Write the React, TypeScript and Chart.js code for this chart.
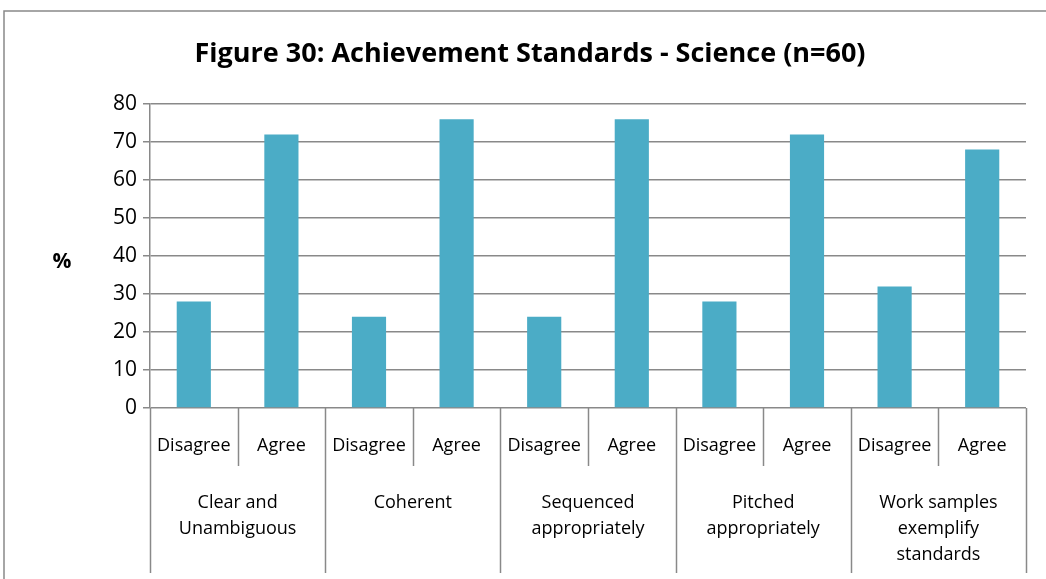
import React, { useEffect, useRef } from "react";
import { Chart, registerables } from "chart.js";

Chart.register(...registerables);

const titleText = "Figure 30: Achievement Standards - Science (n=60)";
const groupLabels: string[][] = [
  ["Clear and", "Unambiguous"],
  ["Coherent"],
  ["Sequenced", "appropriately"],
  ["Pitched", "appropriately"],
  ["Work samples", "exemplify", "standards"],
];
const responseLabels = ["Disagree", "Agree"];
const values = [28, 72, 24, 76, 24, 76, 28, 72, 32, 68];
const yMin = 0;
const yMax = 80;
const yStep = 10;
const yAxisLabel = "%";

const FONT = "'Open Sans', 'Noto Sans', sans-serif";
const LINE = "#898989";

export default function App() {
  const ref = useRef<HTMLCanvasElement | null>(null);
  useEffect(() => {
    if (!ref.current) return;
    const labels: string[] = [];
    groupLabels.forEach((g) => responseLabels.forEach((r) => labels.push(g.join(" ") + " - " + r)));

    const decor = {
      id: "decor",
      afterDraw(chart: any) {
        const ctx = chart.ctx as CanvasRenderingContext2D;
        const x = chart.scales.x;
        const area = chart.chartArea;
        const n = labels.length;
        const px = (i: number) => x.getPixelForValue(i);
        const boundary = (i: number) => {
          if (i <= 0) return area.left;
          if (i >= n) return area.right;
          return (px(i - 1) + px(i)) / 2;
        };
        ctx.save();
        // outer border
        ctx.strokeStyle = LINE;
        ctx.lineWidth = 1.5;
        ctx.beginPath();
        ctx.moveTo(4, 579);
        ctx.lineTo(4, 11);
        ctx.lineTo(1046, 11);
        ctx.stroke();
        // separators
        const y0 = area.bottom;
        for (let i = 0; i <= n; i++) {
          const bx = Math.round(boundary(i)) + 0.5;
          const isGroup = i % responseLabels.length === 0;
          ctx.beginPath();
          ctx.moveTo(bx, y0);
          ctx.lineTo(bx, isGroup ? 573 : 466);
          ctx.stroke();
        }
        // level 1 labels
        ctx.fillStyle = "#000";
        ctx.textAlign = "center";
        ctx.textBaseline = "middle";
        ctx.font = `18px ${FONT}`;
        for (let i = 0; i < n; i++) {
          ctx.fillText(responseLabels[i % responseLabels.length], px(i), 446);
        }
        // level 2 labels
        groupLabels.forEach((g, gi) => {
          const cx = (boundary(gi * 2) + boundary(gi * 2 + 2)) / 2;
          g.forEach((line, li) => ctx.fillText(line, cx, 503 + li * 26));
        });
        // title
        ctx.font = `bold 27px ${FONT}`;
        ctx.fillText(titleText, 530, 54);
        // y label
        ctx.font = `bold 21px ${FONT}`;
        ctx.fillText(yAxisLabel, 62, 262);
        ctx.restore();
      },
    };

    const chart = new Chart(ref.current, {
      type: "bar",
      data: {
        labels,
        datasets: [
          {
            data: values,
            backgroundColor: "#4BACC6",
            borderWidth: 0,
            categoryPercentage: 1,
            barPercentage: 0.39,
          },
        ],
      },
      options: {
        responsive: false,
        animation: false,
        layout: { padding: { left: 0, top: 104, right: 20, bottom: 171 } },
        plugins: { legend: { display: false }, tooltip: { enabled: false }, title: { display: false } },
        scales: {
          x: { display: false },
          y: {
            min: yMin,
            max: yMax,
            ticks: { stepSize: yStep, color: "#000", font: { family: FONT, size: 21 }, padding: 6 },
            grid: { color: LINE, lineWidth: 1.5, tickLength: 7 },
            border: { display: true, color: LINE, width: 1.5 },
            afterFit(s: any) {
              s.width = 150;
            },
          },
        },
      },
      plugins: [decor],
    } as any);
    return () => chart.destroy();
  }, []);
  return (
    <div style={{ position: "fixed", left: 0, top: 0, width: 1046, height: 579, background: "#fff" }}>
      <canvas ref={ref} width={1046} height={579} style={{ display: "block" }} />
    </div>
  );
}
